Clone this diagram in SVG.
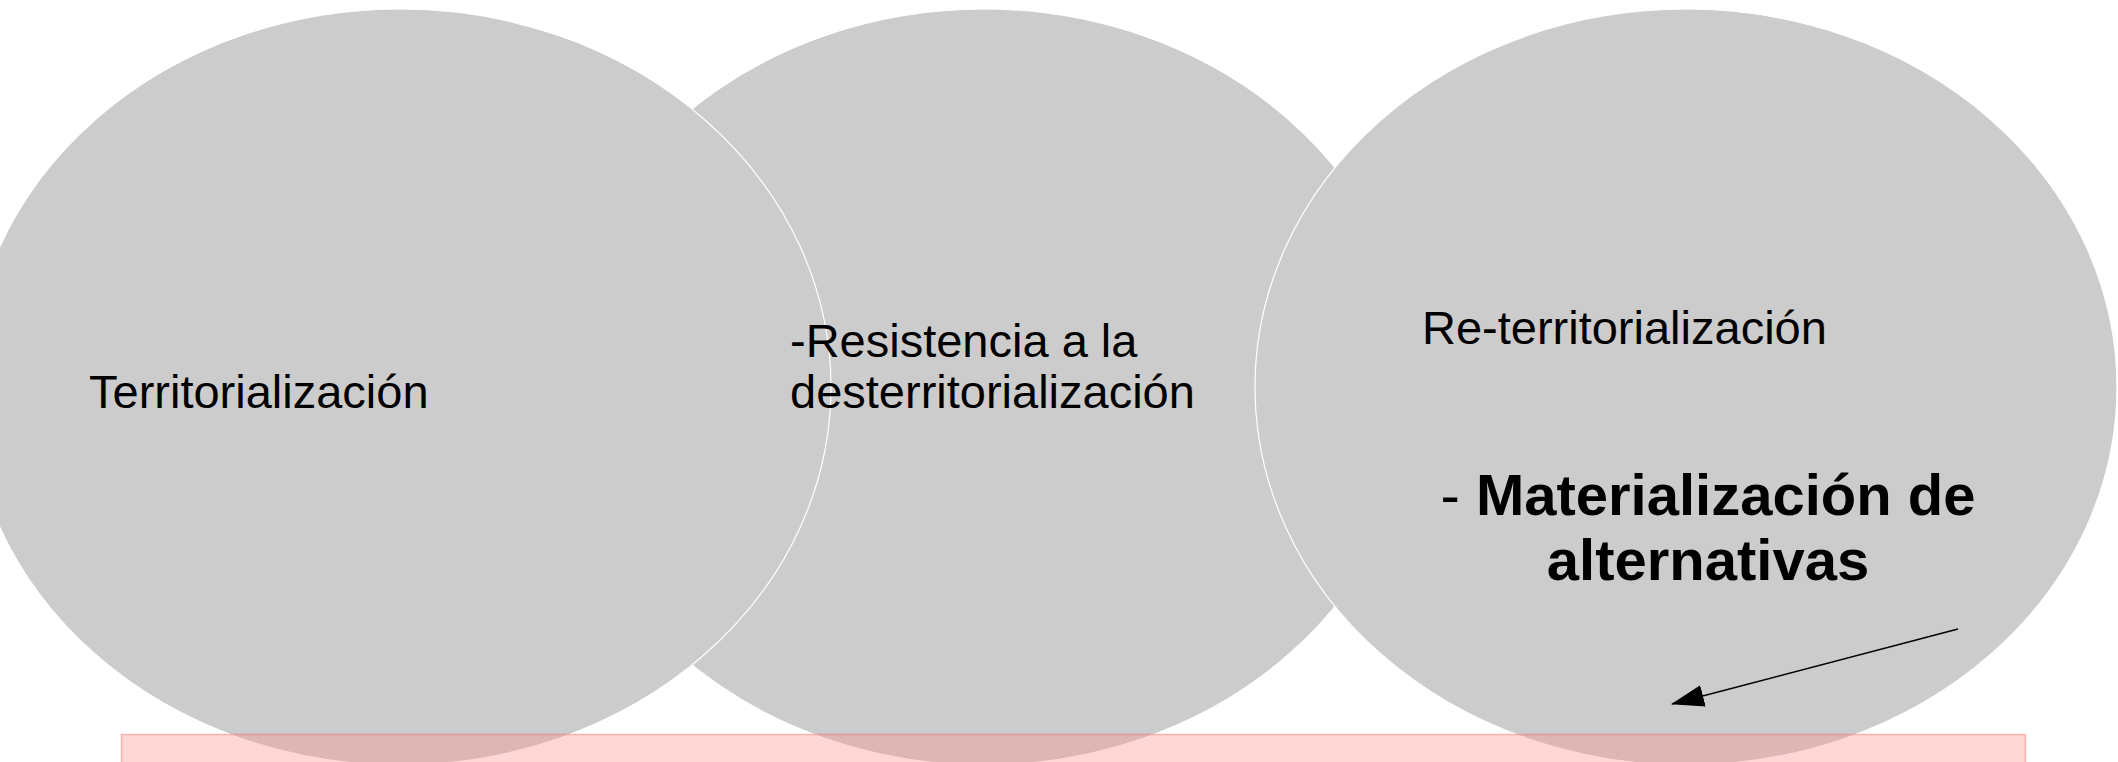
<svg xmlns="http://www.w3.org/2000/svg" width="2118" height="762" viewBox="0 0 2118 762">
  <style>
    .circ { fill: #cccccc; stroke: #ffffff; stroke-width: 1.2; }
    .lbl { font-family: "Liberation Sans", Arial, sans-serif; font-size: 47px; fill: #000000; }
    .big { font-family: "Liberation Sans", Arial, sans-serif; font-size: 58px; fill: #000000; }
    .band { fill: rgb(255,140,140); fill-opacity: 0.35; stroke: rgb(240,110,110); stroke-opacity: 0.45; stroke-width: 1.5; }
    .conn { stroke: #000000; stroke-width: 1.5; fill: none; }
  </style>
  <defs>
    <marker id="arrow" markerUnits="userSpaceOnUse" markerWidth="33" markerHeight="22" viewBox="0 0 33 22" refX="32" refY="11" orient="auto">
      <path d="M0,0 L33,11 L0,22 z" fill="#000000"/>
    </marker>
  </defs>
  <rect x="0" y="0" width="2118" height="762" fill="#ffffff"/>

  <g id="node-resistencia">
    <ellipse class="circ" cx="984" cy="387" rx="431" ry="378"/>
  </g>

  <g id="node-territorializacion">
    <ellipse class="circ" cx="400" cy="387" rx="431" ry="378"/>
    <text class="lbl" x="89" y="408">Territorialización</text>
  </g>

  <g id="node-reterritorializacion">
    <ellipse class="circ" cx="1686" cy="387" rx="431" ry="378"/>
    <text class="lbl" x="1422" y="344">Re-territorialización</text>
    <text class="big" text-anchor="middle" x="1708" y="515">- <tspan font-weight="bold">Materialización de</tspan></text>
    <text class="big" text-anchor="middle" x="1708" y="580" font-weight="bold">alternativas</text>
  </g>

  <g id="node-resistencia-label">
    <text class="lbl" x="790" y="357">-Resistencia a la</text>
    <text class="lbl" x="790" y="408">desterritorialización</text>
  </g>

  <g id="connectors">
    <line class="conn" x1="1958" y1="629" x2="1672" y2="704" marker-end="url(#arrow)"/>
  </g>

  <g id="node-band">
    <rect class="band" x="121.5" y="734.5" width="1904" height="40"/>
  </g>
</svg>
